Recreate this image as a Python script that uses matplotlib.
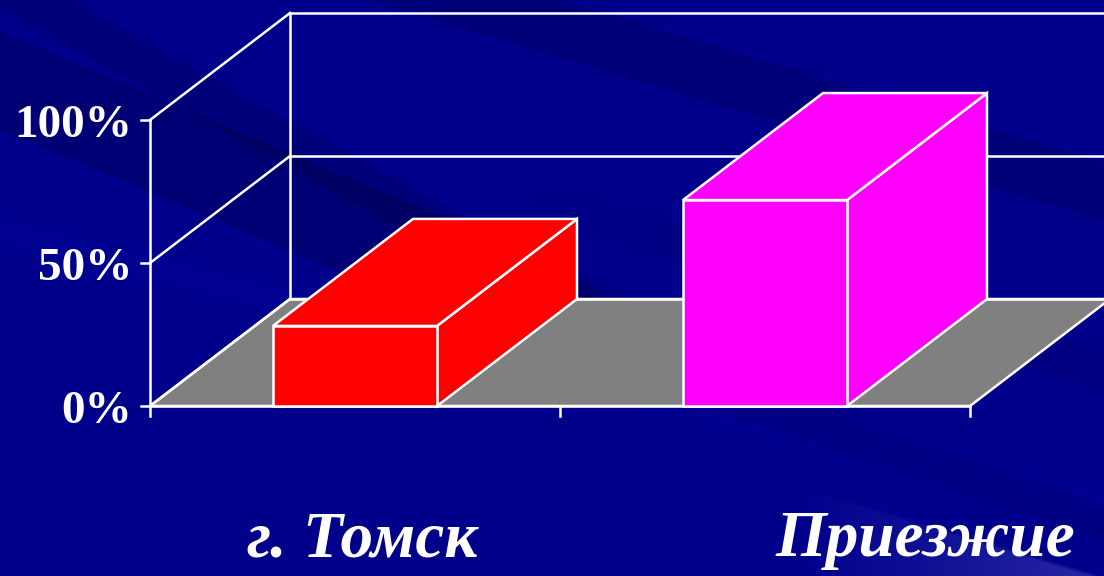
import numpy as np
import matplotlib.pyplot as plt
from matplotlib.patches import Polygon

# данные
categories = ["г. Томск", "Приезжие"]
values = [28, 72]
bar_colors = ["#ff0000", "#ff00ff"]
yticks = [0, 50, 100]
ytick_labels = ["0%", "50%", "100%"]

W, H = 1104, 576
fig = plt.figure(figsize=(W / 100, H / 100), dpi=100)

# фон: тёмно-синий с диагональными полосами
bg = fig.add_axes([0, 0, 1, 1], zorder=-10)
yy, xx = np.mgrid[0:H, 0:W].astype(float)
img = np.zeros((H, W, 3))
img[..., 2] = 0.545


def band(slope, lo, hi, soft=2.0):
    u = yy - slope * xx
    return np.clip((u - lo) / soft, 0, 1) * np.clip((hi - u) / soft, 0, 1)


# тёмные полосы
img[..., 2] -= 0.09 * band(0.42, 30, 130) * np.clip((700 - xx) / 200, 0, 1)
img[..., 2] -= 0.07 * band(0.30, -170, -110)
img[..., 2] -= 0.06 * band(0.55, -40, 10) * (yy < 300)
img[..., 2] -= 0.05 * band(0.33, 140, 175) * np.clip((xx - 600) / 200, 0, 1)
img[..., 2] -= 0.04 * band(0.30, 20, 60) * np.clip((xx - 500) / 300, 0, 1)
# светлая полоса снизу справа
light = band(0.30, 245, 330, soft=4) * np.clip((xx - 800) / 300, 0, 1)
img[..., 0] += 0.15 * light
img[..., 1] += 0.15 * light
img[..., 2] += 0.10 * light
img[..., 2] += 0.025 * band(0.25, 200, 260, soft=20)
bg.imshow(np.clip(img, 0, 1), aspect="auto", extent=[0, W, H, 0])
bg.set_axis_off()

# оси графика: передняя плоскость
ax = fig.add_axes([150 / W, (H - 406) / H, 820 / W, 286 / H])
ax.set_xlim(0, 2)
ax.set_ylim(0, 100)
ax.set_axis_off()
ax.patch.set_visible(False)

dx = 140 / 410   # смещение глубины по x (в единицах категорий)
dy = 107 / 2.86  # смещение глубины по y (в процентах)
lw = 1.8
wc = "white"
right = 2 + dx + 0.05

# пол
ax.add_patch(Polygon([(0, 0), (2, 0), (2 + dx, dy), (dx, dy)], closed=True,
                     facecolor="#808080", edgecolor=wc, lw=lw, zorder=1, clip_on=False))
# задняя и боковая стенки
ax.plot([dx, dx], [dy, 100 + dy], color=wc, lw=lw, zorder=2, clip_on=False)
ax.plot([0, 0], [0, 100], color=wc, lw=lw, zorder=2, clip_on=False)
for t, lab in zip(yticks, ytick_labels):
    ax.plot([0, dx], [t, t + dy], color=wc, lw=lw, zorder=2, clip_on=False)
    ax.plot([dx, right], [t + dy, t + dy], color=wc, lw=lw, zorder=2, clip_on=False)
    ax.plot([-0.022, 0], [t, t], color=wc, lw=lw, zorder=2, clip_on=False)
    ax.text(-0.044, t - 2, lab, ha="right", va="center",
            color=wc, fontsize=34, fontweight="bold", family="Liberation Serif")
ax.plot([0, 2], [0, 0], color=wc, lw=lw, zorder=2, clip_on=False)
for xt in [0, 1, 2]:
    ax.plot([xt, xt], [0, -3.5], color=wc, lw=lw, zorder=2, clip_on=False)

# столбцы
bw = 0.4
for i, (v, c) in enumerate(zip(values, bar_colors)):
    x0, x1 = i + 0.5 - bw / 2, i + 0.5 + bw / 2
    side = [(x1, 0), (x1 + dx, dy), (x1 + dx, v + dy), (x1, v)]
    top = [(x0, v), (x1, v), (x1 + dx, v + dy), (x0 + dx, v + dy)]
    front = [(x0, 0), (x1, 0), (x1, v), (x0, v)]
    for poly in (side, top, front):
        ax.add_patch(Polygon(poly, closed=True, facecolor=c, edgecolor=wc,
                             lw=lw, zorder=3 + i, clip_on=False, joinstyle="miter"))

# подписи категорий
label_x = [0.517, 1.89]
for lx, name in zip(label_x, categories):
    ax.text(lx, -47, name, ha="center", va="center", color=wc, fontsize=47,
            fontweight="bold", fontstyle="italic", family="Liberation Serif")

fig.savefig("out.png", dpi=100)
